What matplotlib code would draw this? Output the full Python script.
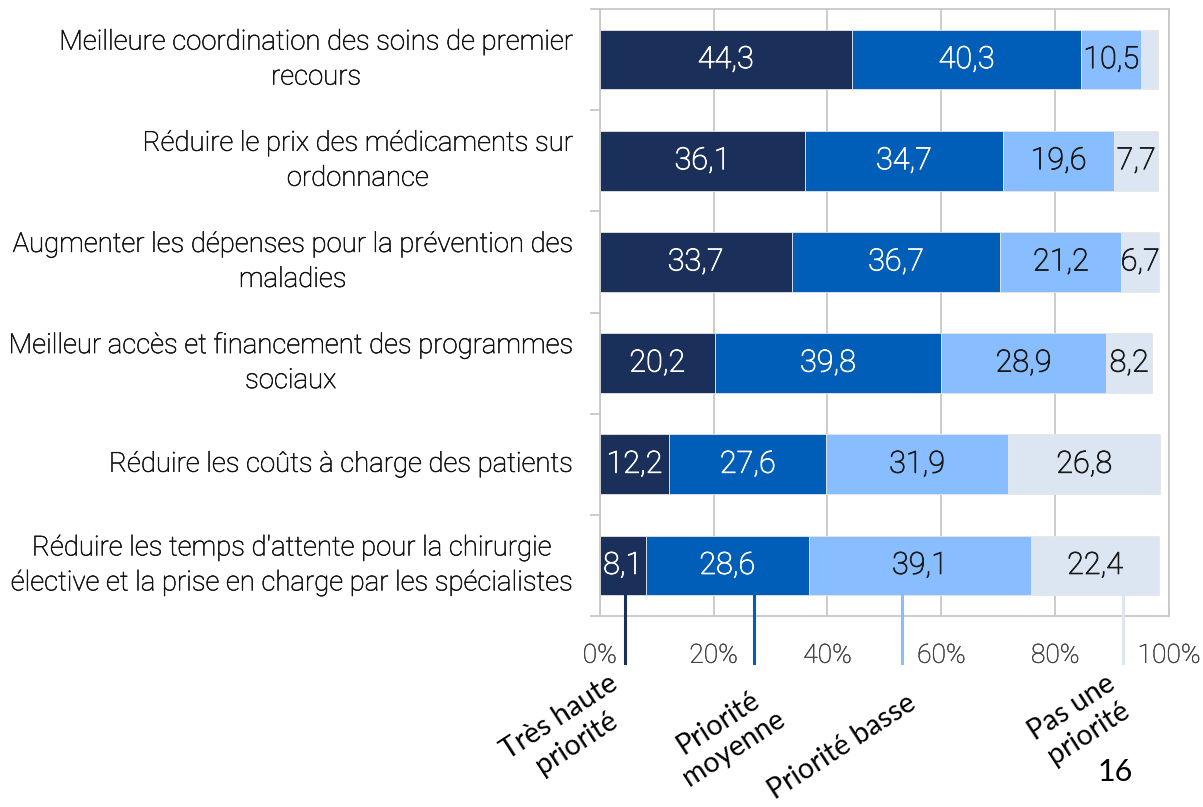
import numpy as np
import matplotlib
matplotlib.use("Agg")
import matplotlib.pyplot as plt
import matplotlib.patheffects as pe

# data (percent of respondents)
categories = [
    "Meilleure coordination des soins de premier\nrecours",
    "Réduire le prix des médicaments sur\nordonnance",
    "Augmenter les dépenses pour la prévention des\nmaladies",
    "Meilleur accès et financement des programmes\nsociaux",
    "Réduire les coûts à charge des patients",
    "Réduire les temps d'attente pour la chirurgie\nélective et la prise en charge par les spécialistes",
]
series_names = ["Très haute\npriorité", "Priorité\nmoyenne", "Priorité basse", "Pas une\npriorité"]
tres_haute = [44.3, 36.1, 33.7, 20.2, 12.2, 8.1]
moyenne = [40.3, 34.7, 36.7, 39.8, 27.6, 28.6]
basse = [10.5, 19.6, 21.2, 28.9, 31.9, 39.1]
pas_une = [3.0, 7.7, 6.7, 8.2, 26.8, 22.4]
xticks = [0, 20, 40, 60, 80, 100]
xtick_labels = ["0%", "20%", "40%", "60%", "80%", "100%"]

colors = ["#1b2f5b", "#005eb8", "#88bdff", "#dce6f2"]
text_colors = ["white", "white", "#1a1a1a", "#1a1a1a"]

W, H = 1203, 807
fig = plt.figure(figsize=(W / 100, H / 100), dpi=100)
ax = fig.add_axes([599.7 / W, 1 - 616 / H, (1169 - 599.7) / W, (616 - 9) / H])

y = np.arange(len(categories))
left = np.zeros(len(categories))
for vals, col, tcol in zip([tres_haute, moyenne, basse, pas_une], colors, text_colors):
    vals = np.array(vals)
    ax.barh(y, vals, left=left, height=0.59, color=col, edgecolor="#e6e6e6",
            linewidth=0.6, zorder=2)
    for yi, l, v in zip(y, left, vals):
        if v >= 5:
            t = ax.text(l + v / 2, yi, f"{v:.1f}".replace(".", ","), ha="center", va="center",
                        color=tcol, fontsize=22, fontfamily="Roboto", fontweight="light", zorder=3)
            t.set_path_effects([pe.withStroke(linewidth=0.6, foreground=tcol)])
    left = left + vals

ax.set_xlim(0, 100)
ax.set_ylim(len(categories) - 0.5, -0.5)

ax.set_xticks(xticks)
ax.set_xticklabels(xtick_labels, fontsize=19, fontfamily="Roboto", fontweight="light",
                   color="#404040")
for t in ax.get_xticklabels():
    t.set_path_effects([pe.withStroke(linewidth=0.3, foreground="#404040")])
ax.tick_params(axis="x", length=0, pad=20)
ax.set_yticks(y)
ax.set_yticklabels(categories, fontsize=19.8, fontfamily="Roboto", fontweight="light",
                   color="#111111", multialignment="center", linespacing=1.38, va="center")
for t in ax.get_yticklabels():
    t.set_path_effects([pe.withStroke(linewidth=0.4, foreground="#111111")])
ax.set_yticks(np.arange(-0.5, len(categories)), minor=True)
ax.tick_params(axis="y", which="major", length=0, pad=19.5)
ax.tick_params(axis="y", which="minor", length=7.5, width=1.3, color="#c8c8c8")

ax.grid(axis="x", color="#c8c8c8", linewidth=1.3, zorder=0)
ax.set_axisbelow(True)
for sp in ax.spines.values():
    sp.set_color("#c8c8c8")
    sp.set_linewidth(1.3)

# leader lines from the bars down to the series labels
leader_x = [4.4, 27.1, 53.1, 91.9]
for lx, col in zip(leader_x, colors):
    ax.plot([lx, lx], [0.0346, -0.0774], color=col, linewidth=2.2,
            transform=ax.get_xaxis_transform(), clip_on=False, zorder=5)

label_pos = [(568, 730), (726, 736), (842, 747), (1080, 720)]
for name, (px, py) in zip(series_names, label_pos):
    fig.text(px / W, 1 - py / H, name, ha="center", va="center", rotation=33,
             rotation_mode="anchor", multialignment="center", fontsize=20.5,
             fontfamily="Lato", color="black", linespacing=1.2)

fig.text(1115 / W, 1 - 772 / H, "16", ha="center", va="center", fontsize=22,
         fontfamily="Lato", color="black")

fig.savefig("out.png", dpi=100)
